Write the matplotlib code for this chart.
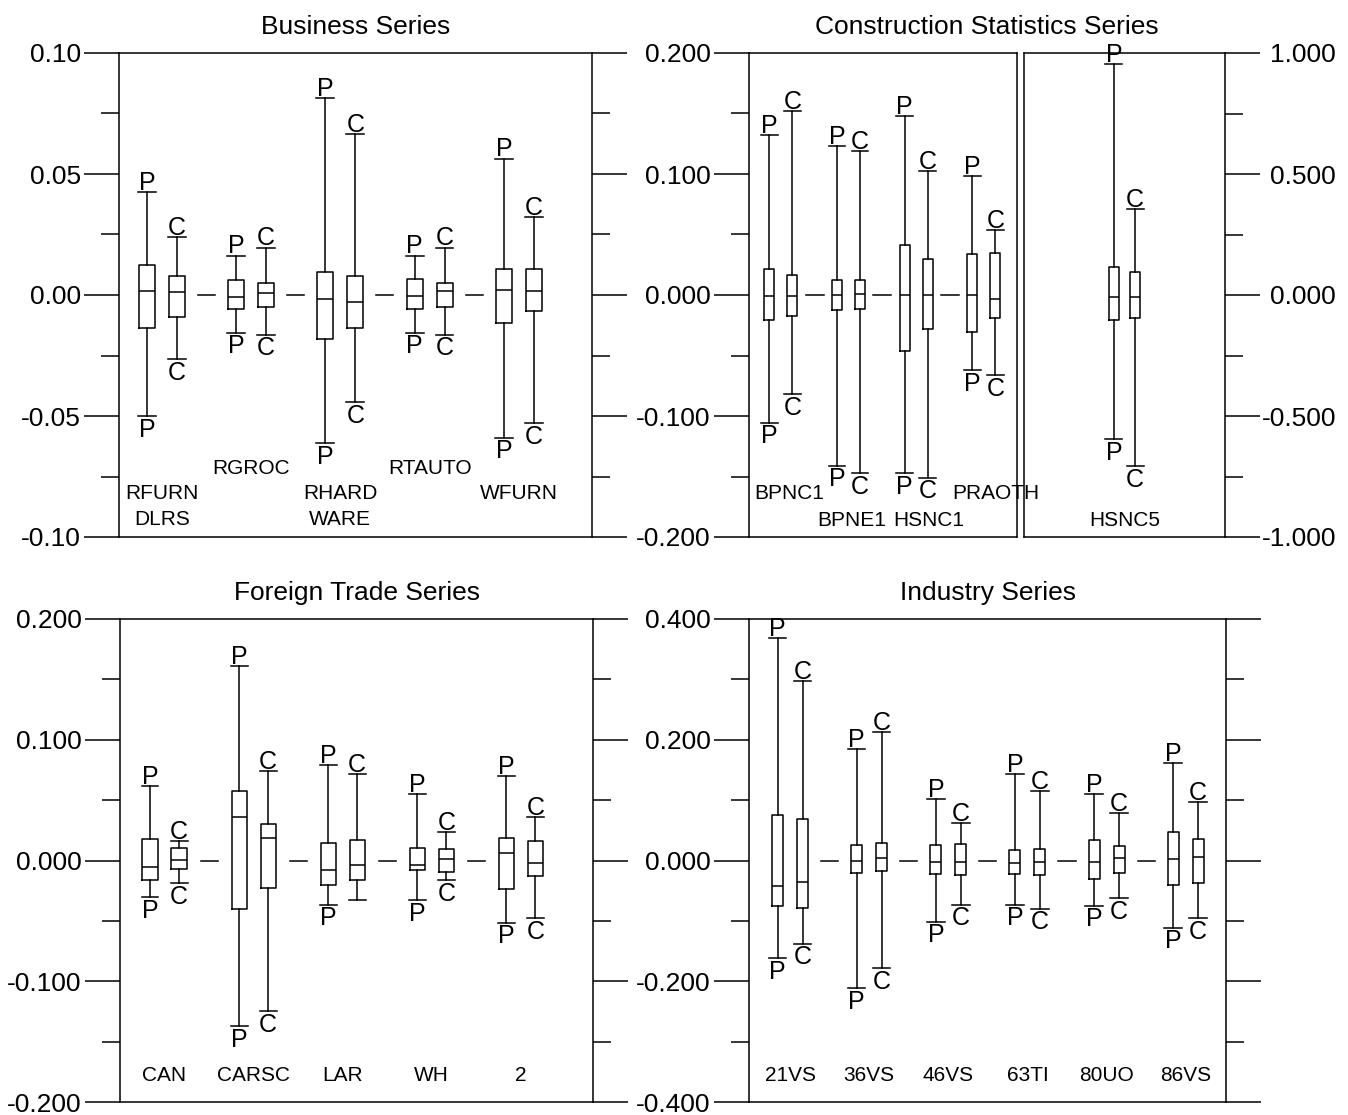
import matplotlib
matplotlib.use("Agg")
import matplotlib.pyplot as plt
import matplotlib.transforms as mtransforms
from matplotlib.ticker import MultipleLocator, FuncFormatter

plt.rcParams['font.family'] = ['Liberation Sans', 'DejaVu Sans']

# every row: [lower whisker, q1, median, q3, upper whisker]
business_names = ["RFURN\nDLRS", "RGROC", "RHARD\nWARE", "RTAUTO", "WFURN"]
business_p = [[-0.0501, -0.0138, 0.0016, 0.0125, 0.0426],
              [-0.0156, -0.0057, -0.0007, 0.0061, 0.0163],
              [-0.0613, -0.0182, -0.0015, 0.0094, 0.0814],
              [-0.0156, -0.0057, -0.0006, 0.0065, 0.0163],
              [-0.0589, -0.0115, 0.0019, 0.0109, 0.0564]]
business_c = [[-0.0265, -0.0090, 0.0012, 0.0080, 0.0240],
              [-0.0164, -0.0051, 0.0010, 0.0048, 0.0196],
              [-0.0443, -0.0138, -0.0028, 0.0077, 0.0666],
              [-0.0164, -0.0051, 0.0015, 0.0051, 0.0196],
              [-0.0530, -0.0065, 0.0016, 0.0109, 0.0321]]

constr_names = ["BPNC1", "BPNE1", "HSNC1", "PRAOTH"]
constr_p = [[-0.1055, -0.0203, -0.0006, 0.0212, 0.132],
            [-0.141, -0.0122, 0.0003, 0.0125, 0.123],
            [-0.1475, -0.0464, 0.0, 0.0414, 0.148],
            [-0.0623, -0.0304, 0.0, 0.0342, 0.098]]
constr_c = [[-0.0817, -0.0171, -0.0006, 0.0162, 0.152],
            [-0.147, -0.0116, 0.0009, 0.0125, 0.119],
            [-0.151, -0.0281, 0.0, 0.0299, 0.1023],
            [-0.0664, -0.0188, -0.0029, 0.0351, 0.0539]]

hsnc5_names = ["HSNC5"]
hsnc5_p = [[-0.597, -0.104, -0.007, 0.117, 0.954]]
hsnc5_c = [[-0.706, -0.097, -0.007, 0.094, 0.355]]

trade_names = ["CAN", "CARSC", "LAR", "WH", "2"]
trade_p = [[-0.0301, -0.0163, -0.0051, 0.0177, 0.0614],
           [-0.137, -0.0403, 0.0358, 0.0572, 0.161],
           [-0.0366, -0.0206, -0.0076, 0.0149, 0.0794],
           [-0.033, -0.0076, -0.0037, 0.0104, 0.0549],
           [-0.0515, -0.0234, 0.0065, 0.0189, 0.0699]]
trade_c = [[-0.0189, -0.0070, 0.0008, 0.0107, 0.0163],
           [-0.1245, -0.0228, 0.0183, 0.0301, 0.0741],
           [-0.033, -0.0161, -0.0037, 0.0169, 0.0718],
           [-0.0161, -0.0093, 0.0014, 0.0099, 0.0239],
           [-0.0479, -0.0127, -0.0023, 0.0163, 0.0361]]

industry_names = ["21VS", "36VS", "46VS", "63TI", "80UO", "86VS"]
industry_p = [[-0.1623, -0.0761, -0.0423, 0.0761, 0.369],
              [-0.211, -0.0208, 0.0, 0.0265, 0.184],
              [-0.1014, -0.0231, -0.0017, 0.0254, 0.1025],
              [-0.0732, -0.0231, -0.0045, 0.0169, 0.1437],
              [-0.0749, -0.0299, -0.0028, 0.0338, 0.1099],
              [-0.111, -0.0411, 0.0028, 0.0479, 0.1617]]
industry_c = [[-0.138, -0.0789, -0.0349, 0.0687, 0.297],
              [-0.1786, -0.0169, 0.0039, 0.0282, 0.213],
              [-0.0732, -0.0237, -0.0028, 0.027, 0.062],
              [-0.080, -0.0242, -0.0017, 0.0186, 0.1155],
              [-0.062, -0.0208, 0.0039, 0.0237, 0.0789],
              [-0.0958, -0.0366, 0.0056, 0.0355, 0.0975]]

# lower letters that are not printed in the original
no_low_letter = {("LAR", "C")}

W, H = 1348, 1115
fig = plt.figure(figsize=(W / 100, H / 100), dpi=100)


def px_rect(x0, y0, x1, y1):
    return [x0 / W, 1 - y1 / H, (x1 - x0) / W, (y1 - y0) / H]


def fmt(dec):
    def f(v, _):
        if abs(v) < 1e-12:
            v = 0.0
        return f"{v:.{dec}f}"
    return FuncFormatter(f)


def setup_axis(ax, lim, major, dec, side="both"):
    ax.set_ylim(-lim, lim)
    ax.patch.set_visible(False)
    ax.yaxis.set_major_locator(MultipleLocator(major))
    ax.yaxis.set_minor_locator(MultipleLocator(major / 2))
    ax.yaxis.set_major_formatter(fmt(dec))
    ax.set_xticks([])
    left = side in ("both", "left")
    right = side in ("both", "right")
    ax.tick_params(axis='y', which='major', direction='out', length=25, width=1.1,
                   labelsize=19, pad=2.5, left=left, right=right,
                   labelleft=left, labelright=False)
    ax.tick_params(axis='y', which='minor', direction='out', length=13, width=1.1,
                   left=left, right=right)
    for s in ax.spines.values():
        s.set_linewidth(1.1)


def draw_boxes(ax, names, p, c, xlim, off, width, cap, dash, label_y, label_dx=None):
    ax.set_xlim(*xlim)
    n = len(names)
    props = dict(color='k', lw=1.1)
    for rows, sign, letter in ((p, -1, "P"), (c, 1, "C")):
        xs = [i + sign * off for i in range(n)]
        stats = [dict(whislo=r[0], q1=r[1], med=r[2], q3=r[3], whishi=r[4], fliers=[])
                 for r in rows]
        ax.bxp(stats, positions=xs, widths=width, capwidths=cap, showfliers=False,
               boxprops=props, whiskerprops=props, capprops=props,
               medianprops=props, manage_ticks=False)
        for name, x, r in zip(names, xs, rows):
            ax.annotate(letter, (x, r[4]), xytext=(0, 1.5), textcoords='offset points',
                        ha='center', va='baseline', fontsize=18)
            if (name, letter) not in no_low_letter:
                ax.annotate(letter, (x, r[0]), xytext=(0, -1.2), textcoords='offset points',
                            ha='center', va='top', fontsize=18)
    # short dashes on the zero line between groups
    for i in range(n - 1):
        m = i + 0.5
        ax.plot([m - dash / 2, m + dash / 2], [0, 0], color='k', lw=1.1)
    trans = mtransforms.blended_transform_factory(ax.transData, ax.transAxes)
    step = 26 / (ax.get_position().height * H)
    for i, name in enumerate(names):
        dx = label_dx[i] if label_dx else 0
        for j, line in enumerate(name.split("\n")):
            ax.text(i + dx, label_y[i] - j * step, line, transform=trans,
                    ha='center', va='baseline', fontsize=15, zorder=5)


# Business
ax1 = fig.add_axes(px_rect(119, 53, 592, 537))
setup_axis(ax1, 0.10, 0.05, 2)
draw_boxes(ax1, business_names, business_p, business_c, (-0.48, 4.82), 0.168, 0.18, 0.20,
           0.19, [0.0795, 0.131, 0.0795, 0.131, 0.0795])

# Construction, two frames
ax2 = fig.add_axes(px_rect(749, 53, 1017, 537))
setup_axis(ax2, 0.200, 0.1, 3, side="left")
draw_boxes(ax2, constr_names, constr_p, constr_c, (-0.47, 3.49), 0.17, 0.15, 0.25,
           0.27, [0.0795, 0.0217, 0.0217, 0.0795], label_dx=[0.12, 0.05, 0.18, 0.18])

ax2b = fig.add_axes(px_rect(1024, 53, 1225, 537))
setup_axis(ax2b, 1.0, 0.5, 3, side="right")
ax2b.tick_params(axis='y', which='major', labelright=True, pad=55)
for t in ax2b.yaxis.get_major_ticks():
    t.label2.set_horizontalalignment('right')
draw_boxes(ax2b, hsnc5_names, hsnc5_p, hsnc5_c, (-1.48, 1.48), 0.155, 0.15, 0.25,
           0.27, [0.0217])

# Foreign trade
ax3 = fig.add_axes(px_rect(120, 619, 593, 1102))
setup_axis(ax3, 0.200, 0.1, 3)
draw_boxes(ax3, trade_names, trade_p, trade_c, (-0.50, 4.81), 0.163, 0.17, 0.19,
           0.19, [0.0445] * 5)

# Industry
ax4 = fig.add_axes(px_rect(749, 619, 1226, 1102))
setup_axis(ax4, 0.400, 0.2, 3)
draw_boxes(ax4, industry_names, industry_p, industry_c, (-0.52, 5.51), 0.158, 0.14, 0.22,
           0.215, [0.0445] * 6)


# titles
def title_over(axes, text):
    x0 = min(a.get_position().x0 for a in axes)
    x1 = max(a.get_position().x1 for a in axes)
    y1 = axes[0].get_position().y1
    fig.text((x0 + x1) / 2, y1 + 26 / H, text, ha='center', va='center', fontsize=19)


title_over([ax1], "Business Series")
title_over([ax2, ax2b], "Construction Statistics Series")
title_over([ax3], "Foreign Trade Series")
title_over([ax4], "Industry Series")

fig.savefig("out.png", dpi=100)
